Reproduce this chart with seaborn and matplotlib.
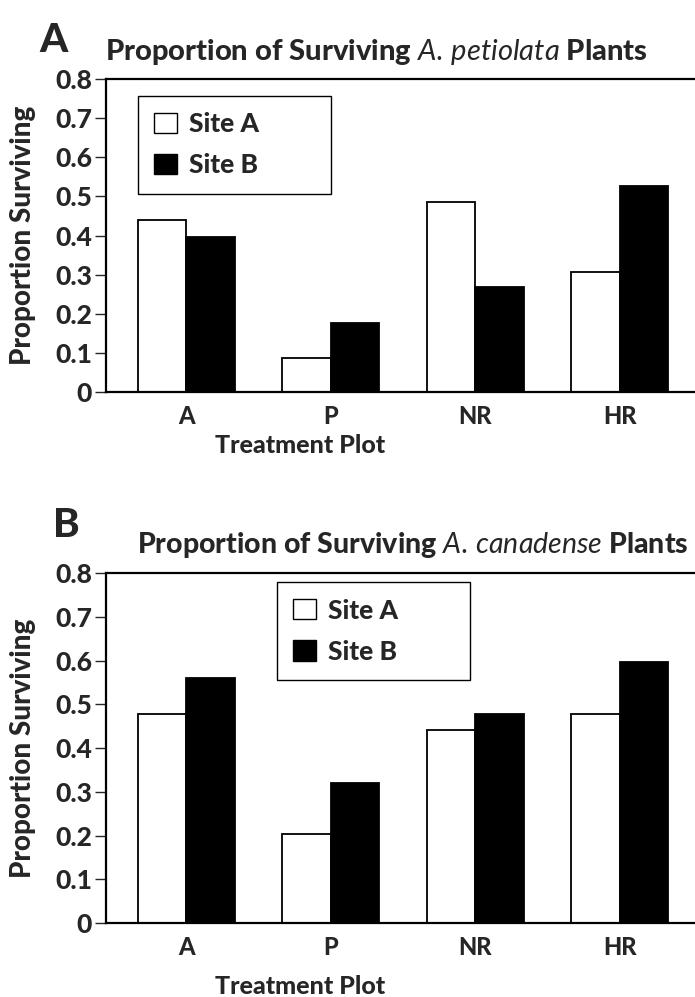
import pandas as pd
import seaborn as sns
import matplotlib.pyplot as plt
from matplotlib.patches import Patch

# data
plots = ['A', 'P', 'NR', 'HR']
sites = ['Site A', 'Site B']
petiolata_site_a = [0.44, 0.087, 0.486, 0.307]
petiolata_site_b = [0.396, 0.176, 0.268, 0.527]
canadense_site_a = [0.478, 0.203, 0.441, 0.478]
canadense_site_b = [0.56, 0.32, 0.478, 0.597]
yticks = [0, 0.1, 0.2, 0.3, 0.4, 0.5, 0.6, 0.7, 0.8]

sns.set_style('white')
plt.rcParams['font.family'] = ['Lato', 'DejaVu Sans']
plt.rcParams['mathtext.fontset'] = 'custom'
plt.rcParams['mathtext.it'] = 'Lato:italic'
plt.rcParams['mathtext.rm'] = 'Lato'

W = 'black'  # font weight used everywhere


def make_df(a, b):
    return pd.DataFrame({
        'Plot': plots * 2,
        'Site': ['Site A'] * 4 + ['Site B'] * 4,
        'Proportion': a + b,
    })


fig = plt.figure(figsize=(6.95, 9.97), dpi=100)
ax1 = fig.add_axes([0.1525, 0.6068, 0.8475, 0.3139])
ax2 = fig.add_axes([0.1525, 0.0742, 0.8475, 0.3510])

# legend boxes in axes coords: (x0, y0, width, height)
panels = [
    (ax1, make_df(petiolata_site_a, petiolata_site_b), (0.054, 0.629, 0.328, 0.317), -0.135),
    (ax2, make_df(canadense_site_a, canadense_site_b), (0.290, 0.686, 0.328, 0.288), -0.149),
]

for ax, df, leg_box, xlab_y in panels:
    sns.barplot(data=df, x='Plot', y='Proportion', hue='Site', order=plots,
                hue_order=sites, palette={'Site A': 'white', 'Site B': 'black'},
                edgecolor='black', linewidth=1.3, width=0.67, gap=0,
                errorbar=None, ax=ax, legend=False)
    ax.set_ylim(0, 0.8)
    ax.set_xlim(-0.554, 3.52)
    ax.set_yticks(yticks)
    ax.set_yticklabels([str(t) if t else '0' for t in yticks])
    ax.tick_params(axis='y', direction='out', length=8, width=1, left=True,
                   labelsize=19, pad=2)
    ax.tick_params(axis='x', length=0, labelsize=17, pad=9)
    for lbl in ax.get_yticklabels() + ax.get_xticklabels():
        lbl.set_fontweight(W)
    for side in ['left', 'top', 'bottom']:
        ax.spines[side].set_visible(True)
        ax.spines[side].set_color('black')
        ax.spines[side].set_linewidth(1.6)
    ax.spines['right'].set_visible(False)
    ax.set_ylabel('Proportion Surviving', fontsize=20, fontweight=W)
    ax.yaxis.set_label_coords(-0.118, 0.5)
    ax.set_xlabel('Treatment Plot', fontsize=18, fontweight=W)
    ax.xaxis.set_label_coords(0.33, xlab_y)

    handles = [Patch(facecolor='white', edgecolor='black', linewidth=1),
               Patch(facecolor='black', edgecolor='black', linewidth=1)]
    leg = ax.legend(handles, sites, loc='upper left', bbox_to_anchor=leg_box,
                    mode='expand', borderaxespad=0, frameon=True, fancybox=False,
                    framealpha=1, edgecolor='black', handlelength=0.87,
                    handleheight=0.8, handletextpad=0.45, borderpad=0.62,
                    labelspacing=0.65, prop={'size': 19, 'weight': W})
    leg.get_frame().set_linewidth(1.0)

fig.text(376 / 695, 1 - 52 / 997, r'Proportion of Surviving $\it{A.\,petiolata}$ Plants',
         ha='center', va='center', fontsize=21, fontweight=W)
fig.text(413 / 695, 1 - 545 / 997, r'Proportion of Surviving $\it{A.\,canadense}$ Plants',
         ha='center', va='center', fontsize=20.5, fontweight=W)
fig.text(53 / 695, 1 - 40 / 997, 'A', ha='center', va='center', fontsize=29, fontweight=W)
fig.text(66 / 695, 1 - 525 / 997, 'B', ha='center', va='center', fontsize=29, fontweight=W)

fig.savefig('out.png', dpi=100)
